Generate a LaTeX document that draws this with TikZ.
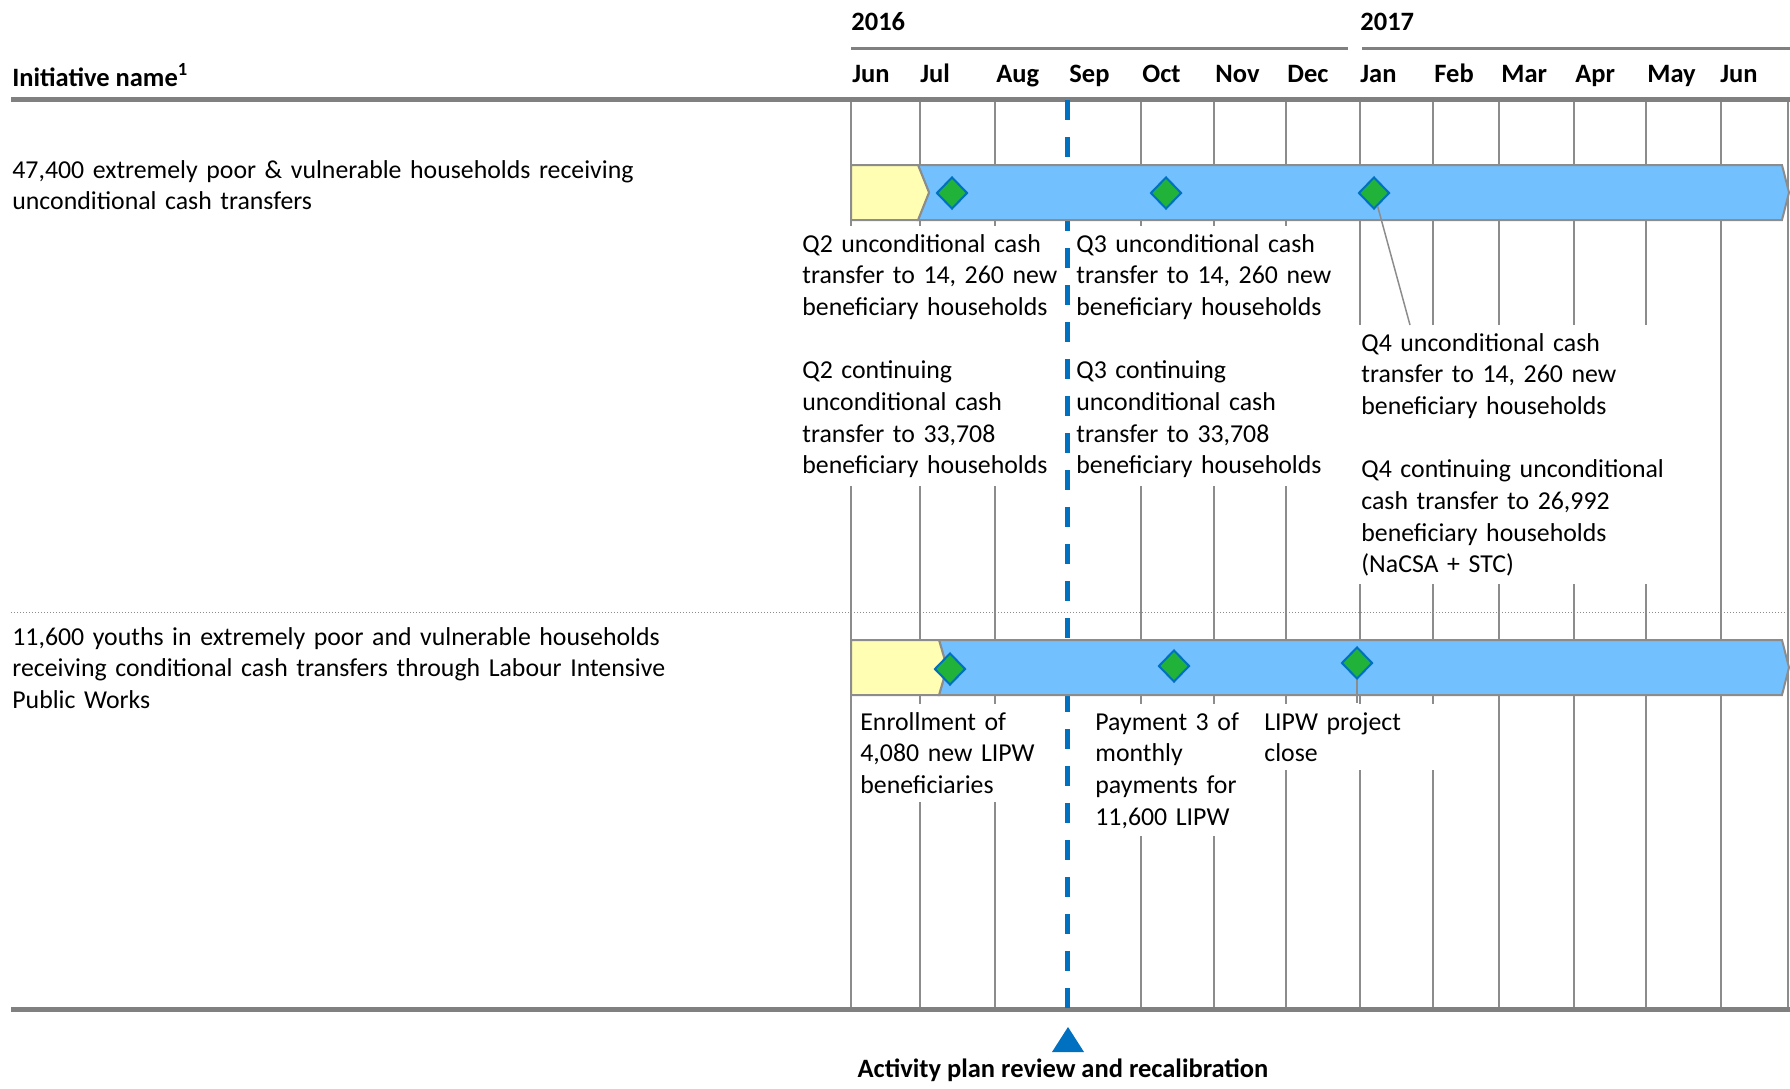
\documentclass[tikz,border=0pt]{standalone}
\usepackage{fontspec}
\setmainfont{Carlito}
\usepackage{tikz}
\usetikzlibrary{shapes.geometric}
\definecolor{gridgray}{RGB}{140,140,140}
\definecolor{rulegray}{RGB}{128,128,128}
\definecolor{barblue}{RGB}{114,192,254}
\definecolor{baryellow}{RGB}{255,254,178}
\definecolor{msgreen}{RGB}{33,178,58}
\definecolor{msblue}{RGB}{0,112,192}
\tikzset{
  txt/.style={font=\fontsize{12.9}{15.85}\selectfont, inner sep=0pt, anchor=base west},
  boldtxt/.style={txt, font=\fontsize{13.25}{15.85}\selectfont\bfseries},
  rowtxt/.style={txt, align=left, text width=#1},
  boxtxt/.style={txt, align=left, text width=#1, fill=white, inner xsep=2pt, inner ysep=4pt},
  msdiamond/.style={diamond, draw=msblue, fill=msgreen, line width=1pt, inner sep=0pt, minimum width=15.5pt, minimum height=16pt},
  gridline/.style={gridgray, line width=1pt},
  barpart/.style={draw=gridgray, line width=1pt},
  leader/.style={gridgray, line width=0.75pt}
}

\begin{document}
\begin{tikzpicture}[x=0.5pt,y=-0.5pt]
\useasboundingbox (0,0) rectangle (1790,1088);
\draw[gridline] (851,99) -- (851,1008);
\draw[gridline] (920,99) -- (920,1008);
\draw[gridline] (995,99) -- (995,1008);
\draw[gridline] (1141,99) -- (1141,1008);
\draw[gridline] (1214,99) -- (1214,1008);
\draw[gridline] (1286,99) -- (1286,1008);
\draw[gridline] (1360,99) -- (1360,1008);
\draw[gridline] (1433,99) -- (1433,1008);
\draw[gridline] (1499,99) -- (1499,1008);
\draw[gridline] (1574,99) -- (1574,1008);
\draw[gridline] (1646,99) -- (1646,1008);
\draw[gridline] (1721,99) -- (1721,1008);
\draw[gridline] (1788,99) -- (1788,1008);

\draw[rulegray, line width=2.5pt] (11,99.5) -- (1790,99.5);
\draw[rulegray, line width=2.5pt] (11,1009) -- (1790,1009);
\draw[rulegray, line width=1.5pt] (851,48) -- (1348,48);
\draw[rulegray, line width=1.5pt] (1362,48) -- (1790,48);
\draw[gridgray, line width=0.6pt, dash pattern=on 0.6pt off 0.9pt] (11,612.5) -- (1790,612.5);

\node[boldtxt] (y2016) at (851,30) {2016};
\node[boldtxt] (y2017) at (1360,30) {2017};
\node[boldtxt] (initname) at (12,86) {Initiative name\textsuperscript{1}};
\node[boldtxt] (mjun) at (852,82) {Jun};
\node[boldtxt] (mjul) at (920,82) {Jul};
\node[boldtxt] (maug) at (996,82) {Aug};
\node[boldtxt] (msep) at (1069,82) {Sep};
\node[boldtxt] (moct) at (1142,82) {Oct};
\node[boldtxt] (mnov) at (1215,82) {Nov};
\node[boldtxt] (mdec) at (1287,82) {Dec};
\node[boldtxt] (mjan) at (1360,82) {Jan};
\node[boldtxt] (mfeb) at (1434,82) {Feb};
\node[boldtxt] (mmar) at (1501,82) {Mar};
\node[boldtxt] (mapr) at (1575,82) {Apr};
\node[boldtxt] (mmay) at (1647,82) {May};
\node[boldtxt] (mjun2) at (1720,82) {Jun};

\node[rowtxt=340pt] (cashrow) at (12,178) {47,400 extremely poor \& vulnerable households receiving\\unconditional cash transfers};
\node[rowtxt=340pt] (lipwrow) at (12,645) {11,600 youths in extremely poor and vulnerable households\\receiving conditional cash transfers through Labour Intensive\\Public Works};

\node[boxtxt=136pt] (q2txt) at (798,252) {Q2 unconditional cash\\transfer to 14, 260 new\\beneficiary households\\[15.85pt]Q2 continuing\\unconditional cash\\transfer to 33,708\\beneficiary households};
\node[boxtxt=135pt] (q3txt) at (1072,252) {Q3 unconditional cash\\transfer to 14, 260 new\\beneficiary households\\[15.85pt]Q3 continuing\\unconditional cash\\transfer to 33,708\\beneficiary households};
\node[boxtxt=160pt] (q4txt) at (1357,351) {Q4 unconditional cash\\transfer to 14, 260 new\\beneficiary households\\[15.85pt]Q4 continuing unconditional\\cash transfer to 26,992\\beneficiary households\\(NaCSA + STC)};
\node[boxtxt=93pt] (enroltxt) at (856,730) {Enrollment of\\4,080 new LIPW\\beneficiaries};
\node[boxtxt=76pt] (paytxt) at (1091,730) {Payment 3 of\\monthly\\payments for\\11,600 LIPW};
\node[boxtxt=88pt] (closetxt) at (1260,730) {LIPW project\\close};

\draw[msblue, line width=2.5pt, dash pattern=on 10pt off 8.5pt] (1067.5,100) -- (1067.5,1013);

\draw[barpart, fill=barblue] (918,165) -- (1782,165) -- (1789,192.5) -- (1782,220) -- (918,220) -- (929,192.5) -- cycle;
\draw[barpart, fill=baryellow] (851,165) -- (918,165) -- (929,192.5) -- (918,220) -- (851,220) -- cycle;
\draw[barpart, fill=barblue] (939,640) -- (1782,640) -- (1789,667.5) -- (1782,695) -- (939,695) -- (947,667.5) -- cycle;
\draw[barpart, fill=baryellow] (851,640) -- (939,640) -- (947,667.5) -- (939,695) -- (851,695) -- cycle;

\node[msdiamond] (q2dia) at (952,193) {};
\node[msdiamond] (q3dia) at (1166,193) {};
\node[msdiamond] (q4dia) at (1374,193) {};
\node[msdiamond] (enroldia) at (950,669) {};
\node[msdiamond] (paydia) at (1174,666) {};
\node[msdiamond] (closedia) at (1357,663) {};
\coordinate (q4end) at (1410,325);
\coordinate (closeend) at (1357,703);
\draw[leader] (q4end) -- (q4dia);
\draw[leader] (closeend) -- (closedia);

\fill[msblue] (1052,1052) -- (1068,1027) -- (1084,1052) -- cycle;
\node[boldtxt, anchor=base] (review) at (1063,1077) {Activity plan review and recalibration};
\end{tikzpicture}
\end{document}
